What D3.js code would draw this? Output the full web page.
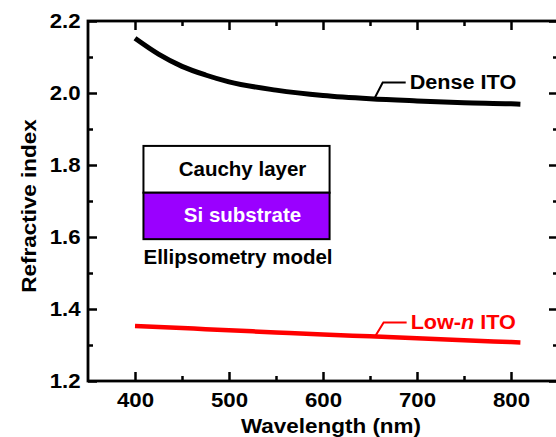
<!DOCTYPE html>
<html>
<head>
<meta charset="utf-8">
<script src="https://cdn.jsdelivr.net/npm/d3@7"></script>
<style>
  body { margin: 0; background: #fff; }
  svg { display: block; font-family: "Liberation Sans", Arial, sans-serif; font-weight: bold; }
</style>
</head>
<body>
<div id="chart"></div>
<script>
// values
var wavelength = [400, 425, 450, 475, 500, 550, 600, 650, 700, 750, 800, 810];
var denseITO   = [2.152, 2.108, 2.074, 2.050, 2.031, 2.008, 1.993, 1.984, 1.978, 1.973, 1.970, 1.969];
var lowNITO    = [1.353, 1.350, 1.347, 1.344, 1.341, 1.335, 1.329, 1.324, 1.319, 1.313, 1.308, 1.307];

var xTicks = [400, 500, 600, 700, 800];
var xMinor = [450, 550, 650, 750];
var yTicks = [1.2, 1.4, 1.6, 1.8, 2.0, 2.2];
var yMinor = [1.3, 1.5, 1.7, 1.9, 2.1];

var width = 556;
var height = 437;
var pLeft = 88, pRight = 558, pTop = 21, pBottom = 381;

var svg = d3.select('#chart').append('svg')
    .attr('width', width)
    .attr('height', height);

var x = d3.scaleLinear().domain([350, 850]).range([pLeft, pRight]);
var y = d3.scaleLinear().domain([1.2, 2.2]).range([pBottom, pTop]);

function stretch(sel, k) {
    sel.attr('transform', 'scale(' + k + ',1)');
}

// axes, ticks pointing inward
function drawAxis(axisFn, scale, pos, major, minor, fmt, labels) {
    var g = svg.append('g').attr('transform', pos);
    var a = axisFn(scale).tickValues(major).tickSize(-9).tickFormat(labels ? fmt : '');
    g.call(a);
    var m = svg.append('g').attr('transform', pos);
    m.call(axisFn(scale).tickValues(minor).tickSize(-5).tickFormat(''));
    [g, m].forEach(function(s) {
        s.select('.domain').remove();
        s.selectAll('line').attr('stroke', '#000').attr('stroke-width', 2.5);
        if (!labels || s === m) s.selectAll('text').remove();
    });
    return g;
}

var gx = drawAxis(d3.axisBottom, x, 'translate(0,' + pBottom + ')', xTicks, xMinor, d3.format('d'), true);
gx.call(function(g) { g.selectAll('text').attr('y', 11); });
drawAxis(d3.axisTop, x, 'translate(0,' + pTop + ')', xTicks, xMinor, null, false);
var gy = drawAxis(d3.axisLeft, y, 'translate(' + pLeft + ',0)', yTicks, yMinor, d3.format('.1f'), true);
gy.call(function(g) { g.selectAll('text').attr('x', -7); });
drawAxis(d3.axisRight, y, 'translate(' + pRight + ',0)', yTicks, yMinor, null, false);

svg.selectAll('.tick text')
    .attr('fill', '#000')
    .style('font-size', '21px')
    .style('font-family', '"Liberation Sans", Arial, sans-serif')
    .style('font-weight', 'bold')
    .call(stretch, 1.06);

svg.append('rect')
    .attr('x', pLeft).attr('y', pTop)
    .attr('width', pRight - pLeft).attr('height', pBottom - pTop)
    .attr('fill', 'none')
    .attr('stroke', '#000')
    .attr('stroke-width', 2.8);

// axis titles
svg.append('g').attr('transform', 'translate(331,433)')
  .append('text')
    .attr('text-anchor', 'middle')
    .style('font-size', '21px')
    .text('Wavelength (nm)')
    .call(stretch, 1.07);

svg.append('g').attr('transform', 'translate(36,206) rotate(-90)')
  .append('text')
    .attr('text-anchor', 'middle')
    .style('font-size', '21px')
    .text('Refractive index')
    .call(stretch, 1.07);

// curves
var line = d3.line()
    .x(function(d) { return x(d[0]); })
    .y(function(d) { return y(d[1]); })
    .curve(d3.curveMonotoneX);

svg.append('path')
    .datum(d3.zip(wavelength, denseITO))
    .attr('d', line)
    .attr('fill', 'none')
    .attr('stroke', '#000')
    .attr('stroke-width', 5);

svg.append('path')
    .datum(d3.zip(wavelength, lowNITO))
    .attr('d', line)
    .attr('fill', 'none')
    .attr('stroke', '#ff0000')
    .attr('stroke-width', 4.5);

// leader labels
function leader(wl, vals, ey, color) {
    var v = d3.scaleLinear().domain(wavelength).range(vals)(wl);
    var x0 = x(wl), y0 = y(v);
    svg.append('path')
        .attr('d', 'M' + x0 + ',' + (y0 - 1) + 'L' + (x0 + 8) + ',' + ey + 'L' + (x0 + 31) + ',' + ey)
        .attr('fill', 'none')
        .attr('stroke', color)
        .attr('stroke-width', 2);
    return svg.append('g').attr('transform', 'translate(' + (x0 + 35) + ',' + (ey + 6) + ')');
}

leader(655, denseITO, 82.5, '#000')
  .append('text')
    .style('font-size', '21px')
    .attr('fill', '#000')
    .text('Dense ITO')
    .call(stretch, 1.03);

var lt = leader(656, lowNITO, 322.5, '#ff0000')
  .append('text')
    .style('font-size', '21px')
    .attr('fill', '#ff0000')
    .call(stretch, 1.03);
lt.append('tspan').text('Low-');
lt.append('tspan').style('font-style', 'italic').text('n');
lt.append('tspan').text(' ITO');

// ellipsometry model inset
var inset = svg.append('g');
var bx0 = x(409), bx1 = x(607);
var byTop = y(1.853), byMid = y(1.723), byBot = y(1.594);

inset.append('rect')
    .attr('x', bx0).attr('y', byTop)
    .attr('width', bx1 - bx0).attr('height', byMid - byTop)
    .attr('fill', '#fff').attr('stroke', '#000').attr('stroke-width', 2);
inset.append('rect')
    .attr('x', bx0).attr('y', byMid)
    .attr('width', bx1 - bx0).attr('height', byBot - byMid)
    .attr('fill', '#9a00ff').attr('stroke', '#000').attr('stroke-width', 2);

inset.append('text')
    .attr('x', (bx0 + bx1) / 2 + 6).attr('y', byTop + 30)
    .attr('text-anchor', 'middle')
    .style('font-size', '20.5px')
    .text('Cauchy layer');
inset.append('text')
    .attr('x', (bx0 + bx1) / 2 + 6).attr('y', byMid + 29)
    .attr('text-anchor', 'middle')
    .attr('fill', '#fff')
    .style('font-size', '20.5px')
    .text('Si substrate');
inset.append('text')
    .attr('x', bx0).attr('y', byBot + 25)
    .style('font-size', '20.5px')
    .text('Ellipsometry model');
</script>
</body>
</html>
